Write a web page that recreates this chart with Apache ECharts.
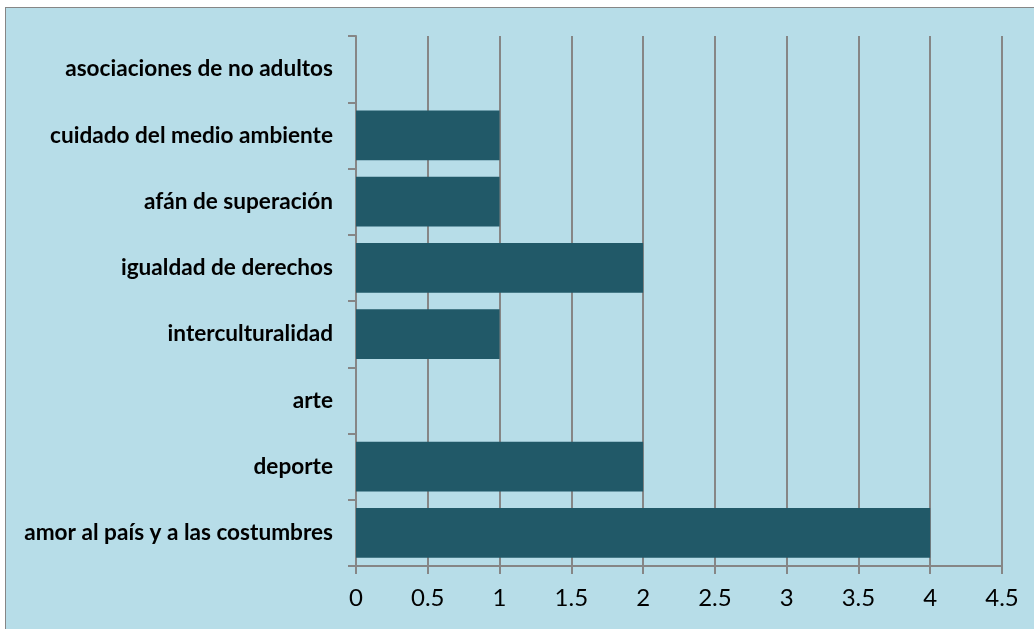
<!DOCTYPE html>
<html><head><meta charset="utf-8">
<script src="https://cdn.jsdelivr.net/npm/echarts@6/dist/echarts.min.js"></script>
<style>
html,body{margin:0;padding:0;background:#fff;width:1034px;height:629px;overflow:hidden;}
#frame{position:absolute;left:5px;top:7px;width:1040px;height:640px;background:#B7DDE8;border:1px solid #868686;box-sizing:border-box;}
#c{position:absolute;left:0;top:0;width:1034px;height:629px;}
</style></head><body>
<div id="frame"></div>
<div id="c"></div>
<script>
const categories = ["amor al país y a las costumbres","deporte","arte","interculturalidad","igualdad de derechos","afán de superación","cuidado del medio ambiente","asociaciones de no adultos"];
const values = [4,2,0,1,2,1,1,0];
const xTicks = [0,0.5,1,1.5,2,2.5,3,3.5,4,4.5];

const chart = echarts.init(document.getElementById('c'), null, {renderer:'canvas'});
chart.setOption({
  backgroundColor:'transparent',
  animation:false,
  grid:{left:356,right:32,top:36,bottom:63,containLabel:false},
  xAxis:{type:'value',min:xTicks[0],max:xTicks[xTicks.length-1],interval:0.5,
    axisLine:{show:true,lineStyle:{color:'#868686',width:2}},
    axisTick:{show:true,length:8,lineStyle:{color:'#868686',width:2}},
    splitLine:{show:true,lineStyle:{color:'#868686',width:2}},
    axisLabel:{color:'#000',fontSize:24,fontFamily:'Lato, sans-serif',margin:20}},
  yAxis:{type:'category',data:categories,
    axisLine:{show:true,lineStyle:{color:'#868686',width:2}},
    axisTick:{show:true,length:8,lineStyle:{color:'#868686',width:2}},
    axisLabel:{color:'#000',fontSize:22.6,fontWeight:'bold',fontFamily:'Lato, sans-serif',margin:23}},
  series:[{type:'bar',data:values,barCategoryGap:'25%',itemStyle:{color:'#215968'}}]
});
</script>
</body></html>
